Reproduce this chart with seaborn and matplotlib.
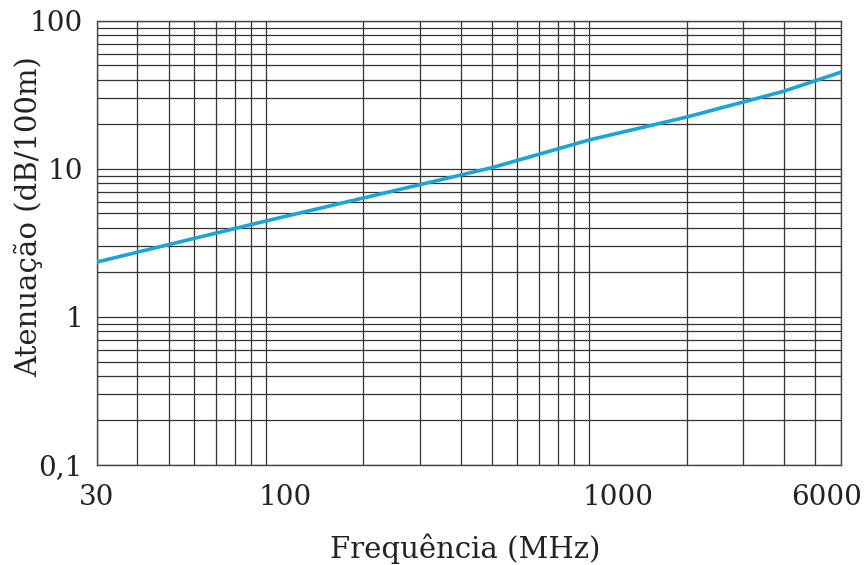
import matplotlib
matplotlib.use("Agg")
import matplotlib.pyplot as plt
import matplotlib.transforms as mtransforms
import seaborn as sns
import pandas as pd
from matplotlib.ticker import FixedLocator, NullFormatter

# dados
freq_mhz = [30, 100, 500, 1000, 2000, 4000, 6000]
atten_db = [2.35, 4.45, 10.2, 15.7, 22.4, 33.5, 45]

x_ticks = [30, 100, 1000, 6000]
x_labels = ["30", "100", "1000", "6000"]
y_ticks = [0.1, 1, 10, 100]
y_labels = ["0,1", "1", "10", "100"]

df = pd.DataFrame({"freq": freq_mhz, "att": atten_db})

sns.set_style("white")
plt.rcParams["font.family"] = ["DejaVu Serif"]

fig, ax = plt.subplots(figsize=(8.65, 5.65), dpi=100)
fig.subplots_adjust(left=0.112, right=0.972, top=0.963, bottom=0.177)

sns.lineplot(data=df, x="freq", y="att", ax=ax, color="#1ba4d8", linewidth=2.6, zorder=3)

ax.set_xscale("log")
ax.set_yscale("log")
ax.set_xlim(30, 6000)
ax.set_ylim(0.1, 100)

# grade menor
x_minor = [40, 50, 60, 70, 80, 90] + [m * 100 for m in range(1, 10)] + [m * 1000 for m in range(1, 6)]
y_minor = [m * d for d in (0.1, 1, 10) for m in range(1, 10)]
ax.xaxis.set_minor_locator(FixedLocator(x_minor))
ax.yaxis.set_minor_locator(FixedLocator(y_minor))
ax.xaxis.set_minor_formatter(NullFormatter())
ax.yaxis.set_minor_formatter(NullFormatter())
ax.set_xticks(x_ticks)
ax.set_xticklabels(x_labels)
ax.set_yticks(y_ticks)
ax.set_yticklabels(y_labels)
ax.grid(True, which="both", color="#333333", linewidth=0.9)
ax.tick_params(which="both", length=0, labelsize=20, colors="#222222")
ax.tick_params(axis="x", pad=14)
ax.tick_params(axis="y", pad=10)

# rótulos do eixo x deslocados como no original
offsets = {"100": ("left", -7), "1000": ("left", -7), "6000": ("right", 21)}
for lab in ax.get_xticklabels():
    t = lab.get_text()
    if t in offsets:
        ha, dx = offsets[t]
        lab.set_ha(ha)
        lab.set_transform(lab.get_transform() + mtransforms.Affine2D().translate(dx, 0))

for s in ax.spines.values():
    s.set_color("#444444")
    s.set_linewidth(1.0)

ax.set_xlabel("Frequência (MHz)", fontsize=21, color="#222222")
ax.set_ylabel("Atenuação (dB/100m)", fontsize=21, color="#222222")
ax.xaxis.set_label_coords(0.495, -0.155)
ax.yaxis.set_label_coords(-0.072, 0.559)

fig.savefig("out.png", dpi=100)
